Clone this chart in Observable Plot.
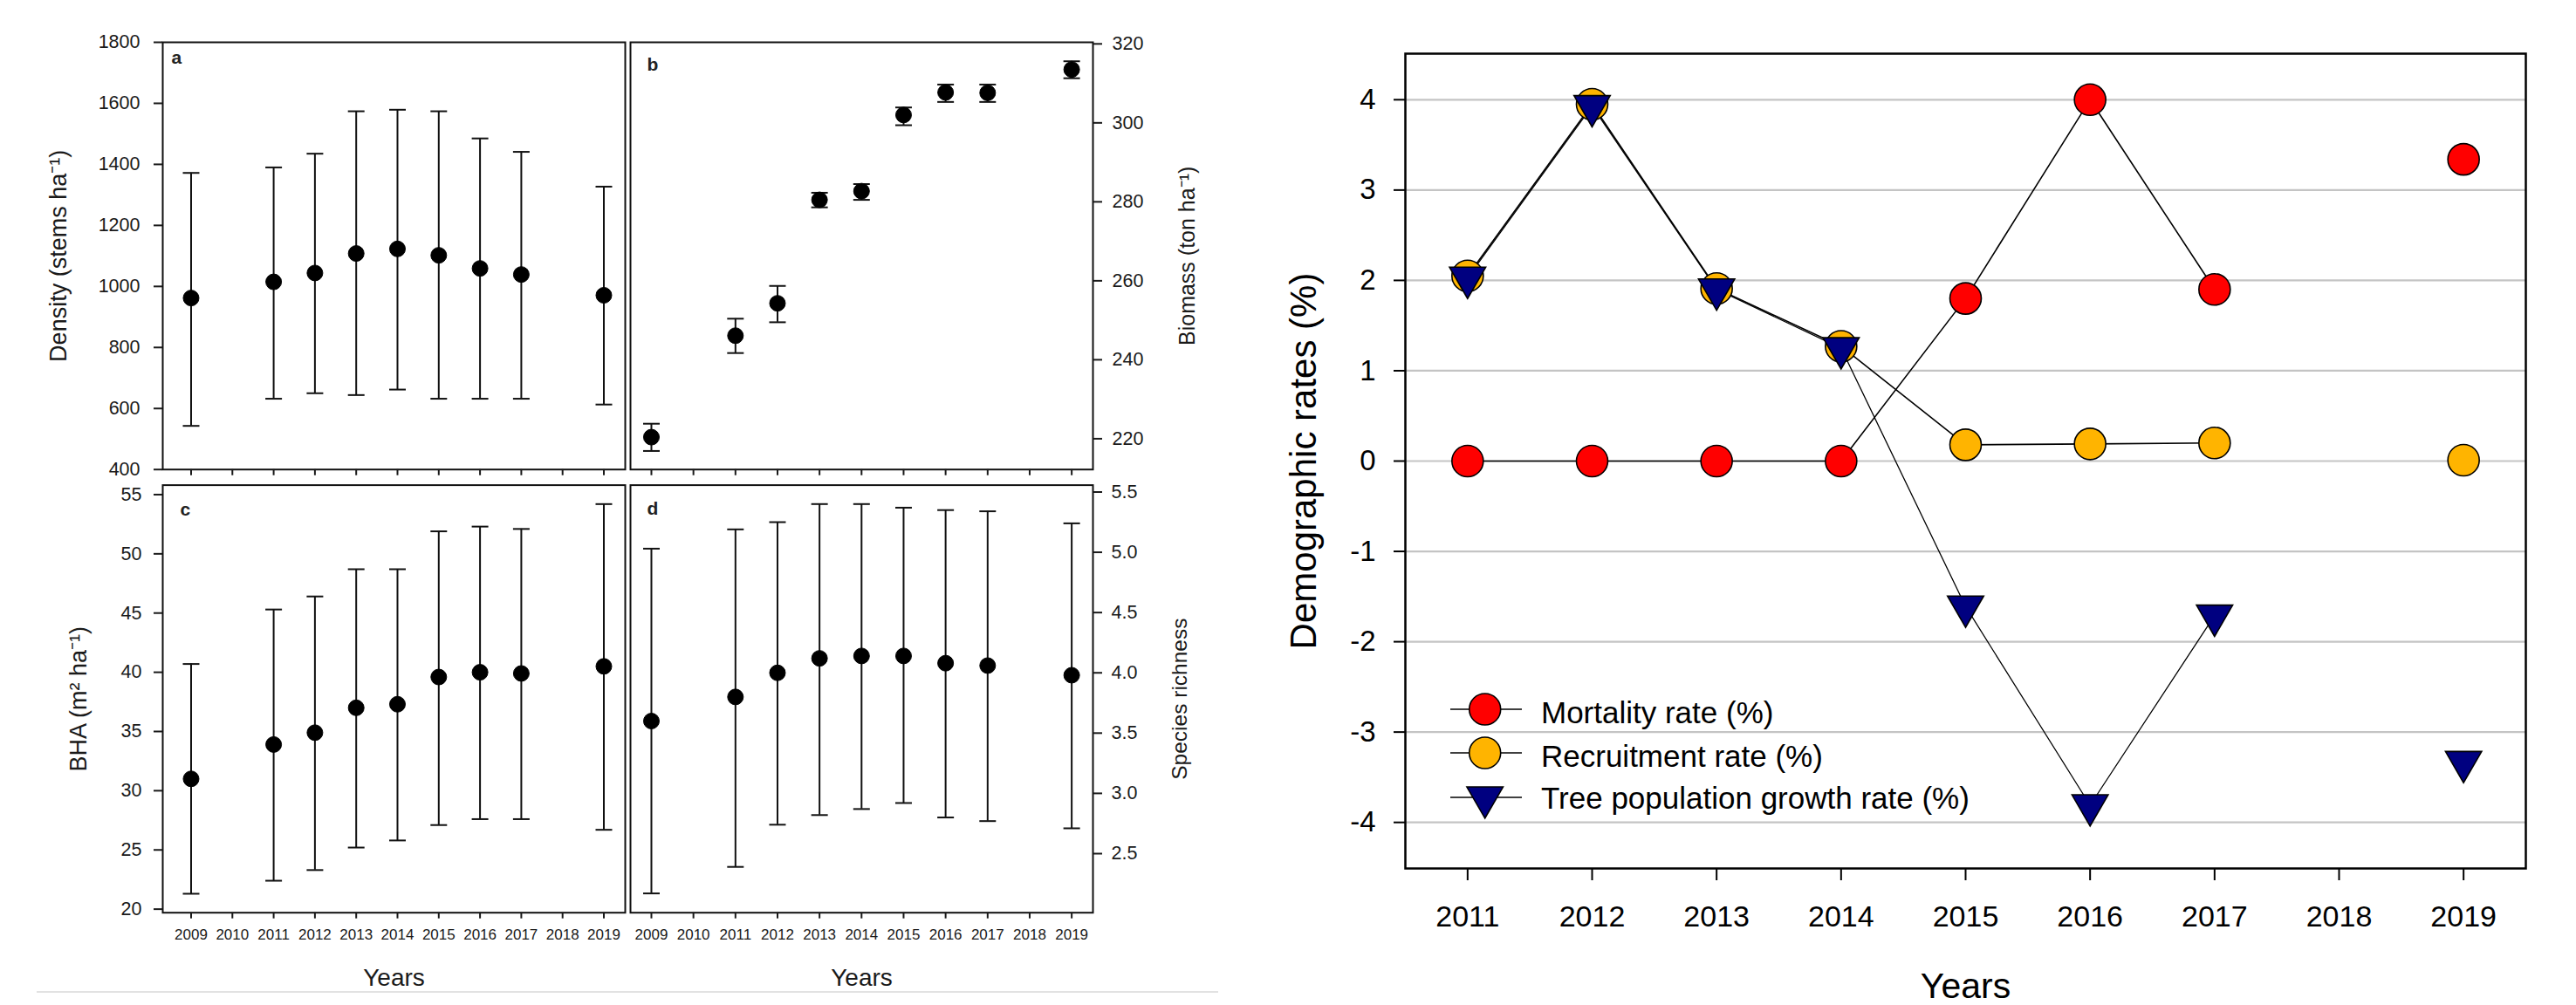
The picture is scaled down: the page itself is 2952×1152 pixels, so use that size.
<!DOCTYPE html>
<html><head><meta charset="utf-8">
<script src="https://cdn.jsdelivr.net/npm/d3@7"></script>
<script src="https://cdn.jsdelivr.net/npm/@observablehq/plot@0.6"></script>
<style>
html,body{margin:0;padding:0;background:#fff;}
#page{position:relative;width:2952px;height:1152px;overflow:hidden;background:#fff;font-family:"Liberation Sans",Arial,sans-serif;}
.pos{position:absolute;}
.pos svg{display:block;overflow:visible;max-width:none;}
</style></head><body><div id="page"></div>
<script>
// ---------- data: left panels (mean and error-bar ends) ----------
const sampleYears = [2009, 2011, 2012, 2013, 2014, 2015, 2016, 2017, 2019];
const axisYears = [2009, 2010, 2011, 2012, 2013, 2014, 2015, 2016, 2017, 2018, 2019];

const densityMean = [962, 1015, 1044, 1108, 1123, 1102, 1059, 1039, 971];
const densityHigh = [1372, 1390, 1435, 1574, 1579, 1574, 1485, 1441, 1327];
const densityLow  = [543, 632, 650, 644, 662, 632, 632, 632, 613];

const biomassMean = [220.4, 246.1, 254.3, 280.5, 282.7, 302.0, 307.7, 307.6, 313.5];
const biomassHigh = [223.8, 250.4, 258.7, 282.3, 284.5, 303.9, 309.7, 309.7, 315.6];
const biomassLow  = [216.9, 241.7, 249.5, 278.6, 280.5, 299.4, 305.3, 305.3, 311.3];

const bhaMean = [31.0, 33.9, 34.9, 37.0, 37.3, 39.6, 40.0, 39.9, 40.5];
const bhaHigh = [40.7, 45.3, 46.4, 48.7, 48.7, 51.9, 52.3, 52.1, 54.2];
const bhaLow  = [21.3, 22.4, 23.3, 25.2, 25.8, 27.1, 27.6, 27.6, 26.7];

const richMean = [3.60, 3.80, 4.00, 4.12, 4.14, 4.14, 4.08, 4.06, 3.98];
const richHigh = [5.03, 5.19, 5.25, 5.40, 5.40, 5.37, 5.35, 5.34, 5.24];
const richLow  = [2.17, 2.39, 2.74, 2.82, 2.87, 2.92, 2.80, 2.77, 2.71];

const densityTicks = [400, 600, 800, 1000, 1200, 1400, 1600, 1800];
const biomassTicks = [220, 240, 260, 280, 300, 320];
const bhaTicks = [20, 25, 30, 35, 40, 45, 50, 55];
const richTicks = [2.5, 3.0, 3.5, 4.0, 4.5, 5.0, 5.5];

// ---------- data: right panel ----------
const rateYears = [2011, 2012, 2013, 2014, 2015, 2016, 2017, 2018, 2019];
const mortality   = [0, 0, 0, 0, 1.80, 4.00, 1.90, null, 3.34];
const recruitment = [2.05, 3.95, 1.91, 1.27, 0.18, 0.19, 0.20, null, 0.01];
const growth      = [2.03, 3.93, 1.90, 1.25, -1.61, -3.81, -1.71, null, -3.33];
const rateTicks = [-4, -3, -2, -1, 0, 1, 2, 3, 4];
const legendItems = ["Mortality rate (%)", "Recruitment rate (%)", "Tree population growth rate (%)"];
const seriesColors = ["#ff0000", "#ffb400", "#000080"];

const FONT = '"Liberation Sans", Arial, sans-serif';
const page = document.getElementById("page");
function place(el, left, top, w, h) {
  const d = document.createElement("div");
  d.className = "pos";
  d.style.left = left + "px"; d.style.top = top + "px";
  d.style.width = w + "px"; d.style.height = h + "px";
  d.appendChild(el); page.appendChild(d); return d;
}

const capSymbol = {draw(ctx, size) { const r = Math.sqrt(size / Math.PI); ctx.moveTo(-r, 0); ctx.lineTo(r, 0); }};
const downTriangle = {draw(ctx, size) {
  const y = Math.sqrt(size / (3 * Math.sqrt(3)));
  ctx.moveTo(0, 2 * y); ctx.lineTo(-Math.sqrt(3) * y, -y); ctx.lineTo(Math.sqrt(3) * y, -y); ctx.closePath();
}};

function smallPanel(o) {
  const rows = sampleYears.map((y, i) => ({year: y, mean: o.mean[i], lo: o.lo[i], hi: o.hi[i]}));
  const marks = [
    Plot.frame({stroke: "#111", strokeWidth: 2}),
    Plot.axisY({anchor: o.side, ticks: o.ticks, tickFormat: o.fmt, tickSize: 10, tickPadding: o.pad,
      fontSize: 21.5, label: null, strokeWidth: 2}),
    Plot.axisX({anchor: "bottom", ticks: axisYears, tickSize: 7, tickPadding: 12,
      tickFormat: o.xLabels ? (d => String(d)) : (() => ""), fontSize: 17, label: null, strokeWidth: 2}),
    Plot.ruleX(rows, {x: "year", y1: "lo", y2: "hi", stroke: "#111", strokeWidth: 2}),
    Plot.dot(rows, {x: "year", y: "lo", symbol: capSymbol, r: 9.5, stroke: "#111", strokeWidth: 2}),
    Plot.dot(rows, {x: "year", y: "hi", symbol: capSymbol, r: 9.5, stroke: "#111", strokeWidth: 2}),
    Plot.dot(rows, {x: "year", y: "mean", r: 9, fill: "#000", stroke: "#000", strokeWidth: 1}),
    Plot.text([o.letter], {text: d => d, frameAnchor: "top-left", dx: o.ldx, dy: o.ldy, lineAnchor: "top",
      textAnchor: "start", fontWeight: "bold", fontSize: 21, fill: "#222"}),
    Plot.text([o.ylabel], {text: d => d, frameAnchor: o.side, rotate: -90, dx: o.labelDx,
      textAnchor: "middle", lineAnchor: "middle", fontSize: o.labelSize, fill: "#1a1a1a"})
  ];
  if (o.xLabels) marks.push(Plot.text(["Years"], {text: d => d, frameAnchor: "bottom", dy: 64,
    lineAnchor: "top", textAnchor: "middle", fontSize: 28, fill: "#1a1a1a"}));
  const svg = Plot.plot({
    width: o.w, height: o.h,
    marginLeft: o.ml, marginRight: o.mr, marginTop: o.mt, marginBottom: o.mb,
    x: {domain: o.xDomain}, y: {domain: o.yDomain},
    style: {background: "transparent", color: "#1a1a1a", fontFamily: FONT, fontSize: "21.5px", overflow: "visible"},
    marks
  });
  place(svg, o.left, o.top, o.w, o.h);
}

const xAC = [2008.313, 2019.518], xBD = [2008.502, 2019.506];
smallPanel({left: 0, top: 0, w: 719, h: 546, ml: 186, mr: 3, mt: 48, mb: 8.3, xDomain: xAC,
  yDomain: [400, 1800], ticks: densityTicks, fmt: d => String(d), side: "left", pad: 16,
  mean: densityMean, lo: densityLow, hi: densityHigh, letter: "a", ldx: 10, ldy: 10,
  ylabel: "Density (stems ha\u207B\u00B9)", labelDx: -119, labelSize: 27, xLabels: false});
smallPanel({left: 719, top: 0, w: 721, h: 546, ml: 3, mr: 188, mt: 48, mb: 8.3, xDomain: xBD,
  yDomain: [212.2, 320.4], ticks: biomassTicks, fmt: d => String(d), side: "right", pad: 12,
  mean: biomassMean, lo: biomassLow, hi: biomassHigh, letter: "b", ldx: 19, ldy: 18,
  ylabel: "Biomass (ton ha\u207B\u00B9)", labelDx: 108, labelSize: 25, xLabels: false});
smallPanel({left: 0, top: 546, w: 719, h: 606, ml: 186, mr: 3, mt: 9.6, mb: 106.3, xDomain: xAC,
  yDomain: [19.7, 55.8], ticks: bhaTicks, fmt: d => String(d), side: "left", pad: 14,
  mean: bhaMean, lo: bhaLow, hi: bhaHigh, letter: "c", ldx: 20, ldy: 20,
  ylabel: "BHA (m\u00B2 ha\u207B\u00B9)", labelDx: -96, labelSize: 27, xLabels: true});
smallPanel({left: 719, top: 546, w: 721, h: 606, ml: 3, mr: 188, mt: 9.6, mb: 106.3, xDomain: xBD,
  yDomain: [2.01, 5.557], ticks: richTicks, fmt: d => d.toFixed(1), side: "right", pad: 11,
  mean: richMean, lo: richLow, hi: richHigh, letter: "d", ldx: 19, ldy: 19,
  ylabel: "Species richness", labelDx: 100, labelSize: 24.5, xLabels: true});

// thin separator under left figure
const sep = document.createElement("div");
sep.style.cssText = "width:1354px;height:2px;background:#e2e2e2;";
place(sep, 42, 1136, 1354, 2);

// ---------- right panel ----------
const rRows = rateYears.map((y, i) => ({year: y, m: mortality[i], r: recruitment[i], g: growth[i]}));
const rightSvg = Plot.plot({
  width: 1512, height: 1152, marginLeft: 170, marginRight: 58, marginTop: 61, marginBottom: 157,
  x: {domain: [2010.5, 2019.5]}, y: {domain: [-4.51, 4.51]},
  style: {background: "transparent", color: "#000", fontFamily: FONT, fontSize: "33px", overflow: "visible"},
  marks: [
    Plot.gridY({ticks: rateTicks, stroke: "#c4c4c4", strokeOpacity: 1, strokeWidth: 2.2}),
    Plot.frame({stroke: "#000", strokeWidth: 2.5}),
    Plot.axisY({ticks: rateTicks, tickSize: 13, tickPadding: 21, tickFormat: d => String(d), fontSize: 33, label: null, strokeWidth: 2}),
    Plot.axisX({ticks: rateYears, tickSize: 14, tickPadding: 28, tickFormat: d => String(d), fontSize: 34, label: null, strokeWidth: 2}),
    Plot.line(rRows, {x: "year", y: "m", stroke: "#000", strokeWidth: 1.6}),
    Plot.line(rRows, {x: "year", y: "r", stroke: "#000", strokeWidth: 1.6}),
    Plot.line(rRows, {x: "year", y: "g", stroke: "#000", strokeWidth: 1.3}),
    Plot.dot(rRows, {x: "year", y: "m", r: 18, fill: seriesColors[0], stroke: "#000", strokeWidth: 1.6}),
    Plot.dot(rRows, {x: "year", y: "r", r: 18, fill: seriesColors[1], stroke: "#000", strokeWidth: 1.6}),
    Plot.dot(rRows, {x: "year", y: "g", r: 15.4, symbol: downTriangle, fill: seriesColors[2], stroke: "#000", strokeWidth: 1.6}),
    Plot.text(["Demographic rates (%)"], {text: d => d, frameAnchor: "left", rotate: -90, dx: -116,
      textAnchor: "middle", lineAnchor: "middle", fontSize: 42, fill: "#000"}),
    Plot.text(["Years"], {text: d => d, frameAnchor: "bottom", dy: 119, lineAnchor: "top",
      textAnchor: "middle", fontSize: 41, fill: "#000"})
  ]
});
place(rightSvg, 1440, 0, 1512, 1152);

// ---------- legend (inside the right plot frame) ----------
const lg = d3.create("svg").attr("width", 520).attr("height", 170)
  .style("font-family", FONT).style("overflow", "visible");
const rowY = [33, 83, 134], textY = [36, 86, 134];
legendItems.forEach((name, i) => {
  const g = lg.append("g");
  g.append("line").attr("x1", 12).attr("x2", 94).attr("y1", rowY[i]).attr("y2", rowY[i])
    .attr("stroke", "#000").attr("stroke-width", 1.6);
  const sym = i < 2 ? d3.symbol(d3.symbolCircle, Math.PI * 18 * 18) : d3.symbol(downTriangle, Math.PI * 15.4 * 15.4);
  g.append("path").attr("d", sym()).attr("transform", `translate(51.7,${rowY[i]})`)
    .attr("fill", seriesColors[i]).attr("stroke", "#000").attr("stroke-width", 1.6);
  g.append("text").attr("x", 116).attr("y", textY[i]).attr("dominant-baseline", "central")
    .attr("font-size", 35).attr("fill", "#000").text(name);
});
place(lg.node(), 1650, 780, 520, 170);
</script></body></html>
